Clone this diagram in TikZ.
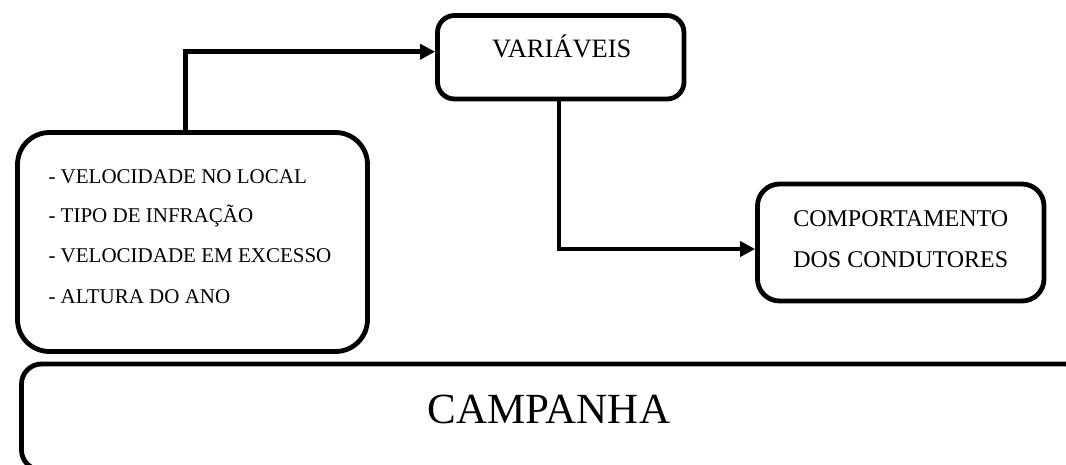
\documentclass[tikz,border=0pt]{standalone}
\usepackage{fontspec}
\setmainfont{Liberation Serif}
\usetikzlibrary{arrows.meta}
\begin{document}
\begin{tikzpicture}[x=1pt,y=-1pt,
  box/.style={draw=black, line width=4.8pt, rectangle, inner sep=0pt},
  conn/.style={draw=black, line width=4.8pt, -{Triangle[length=15pt,width=15pt]}},
  listtxt/.style={anchor=base west, inner sep=0pt, font=\fontsize{21}{24}\selectfont},
  midtxt/.style={anchor=base, inner sep=0pt, font=\fontsize{24}{28}\selectfont},
  vartxt/.style={anchor=base, inner sep=0pt, font=\fontsize{26.5}{30}\selectfont},
  bigtxt/.style={anchor=base, inner sep=0pt, font=\fontsize{43}{50}\selectfont}]
\useasboundingbox (0,0) rectangle (1066,464);
\clip (0,0) rectangle (1066,464);
% boxes
\node[box, rounded corners=32pt, minimum width=350pt, minimum height=219pt] (list) at (192.5,242) {};
\node[box, rounded corners=17pt, minimum width=246.5pt, minimum height=83.5pt] (var) at (560.75,57.25) {};
\node[box, rounded corners=22pt, minimum width=286.5pt, minimum height=117pt] (comp) at (900.75,242.5) {};
\node[box, rounded corners=20pt, minimum width=1063.5pt, minimum height=106pt] (camp) at (553.25,417) {};
% texts
\node[listtxt] (l1) at (48.3,183.3) {- VELOCIDADE NO LOCAL};
\node[listtxt] (l2) at (48.3,222.7) {- TIPO DE INFRAÇÃO};
\node[listtxt] (l3) at (48.3,262.7) {- VELOCIDADE EM EXCESSO};
\node[listtxt] (l4) at (48.3,303.3) {- ALTURA DO ANO};
\node[vartxt] (tv) at (561.7,57.3) {VARIÁVEIS};
\node[midtxt] (c1) at (900.75,226) {COMPORTAMENTO};
\node[midtxt] (c2) at (900.75,267.3) {DOS CONDUTORES};
\node[bigtxt] (tc) at (549,423.3) {CAMPANHA};
% connectors
\draw[conn] ([xshift=-6.7pt]list.north) |- ([yshift=5.5pt]var.west);
\draw[conn] ([xshift=-1.75pt]var.south) |- ([yshift=-6.5pt]comp.west);
\end{tikzpicture}
\end{document}
